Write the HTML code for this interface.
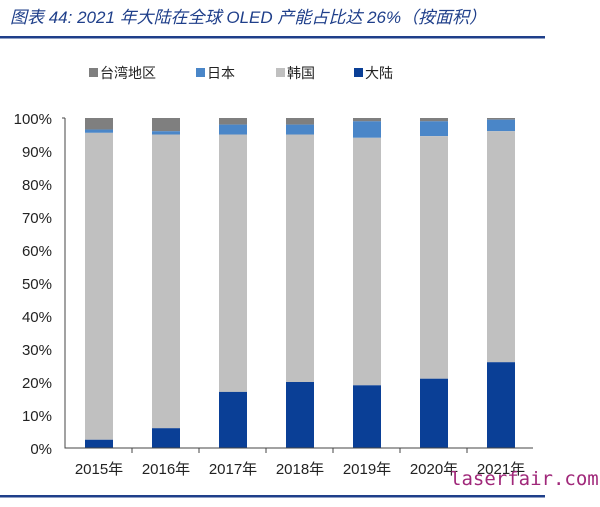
<!DOCTYPE html><html><head><meta charset="utf-8"><style>body{margin:0;background:#fff}svg{display:block}</style></head><body>
<svg width="600" height="507" xmlns="http://www.w3.org/2000/svg" font-family="Liberation Sans, Noto Sans CJK SC, sans-serif">
<text x="10" y="23" font-size="17" font-style="italic" fill="#1f3f8a">图表 44:  2021 年大陆在全球 OLED 产能占比达 26%（按面积）</text>
<rect x="0" y="36" width="545" height="2.5" fill="#1f3f8a"/>
<rect x="0" y="495" width="545" height="2.5" fill="#1f3f8a"/>
<g font-size="14" fill="#222">
<rect x="89" y="68" width="9" height="9" fill="#7f7f7f"/><text x="100" y="78">台湾地区</text>
<rect x="196" y="68" width="9" height="9" fill="#4a86c8"/><text x="207" y="78">日本</text>
<rect x="276" y="68" width="9" height="9" fill="#c0c0c0"/><text x="287" y="78">韩国</text>
<rect x="354" y="68" width="9" height="9" fill="#0a3f96"/><text x="365" y="78">大陆</text>
</g>
<g font-size="15" fill="#222" text-anchor="end">
<text x="52" y="124">100%</text><text x="52" y="157">90%</text><text x="52" y="190">80%</text><text x="52" y="223">70%</text><text x="52" y="256">60%</text><text x="52" y="289">50%</text><text x="52" y="322">40%</text><text x="52" y="355">30%</text><text x="52" y="388">20%</text><text x="52" y="421">10%</text><text x="52" y="454">0%</text>
</g>
<g>
<rect x="85" y="118" width="28" height="11.55" fill="#7f7f7f"/><rect x="85" y="129.55" width="28" height="3.3" fill="#4a86c8"/><rect x="85" y="132.85" width="28" height="306.9" fill="#c0c0c0"/><rect x="85" y="439.75" width="28" height="8.25" fill="#0a3f96"/>
<rect x="152" y="118" width="28" height="13.2" fill="#7f7f7f"/><rect x="152" y="131.2" width="28" height="3.3" fill="#4a86c8"/><rect x="152" y="134.5" width="28" height="293.7" fill="#c0c0c0"/><rect x="152" y="428.2" width="28" height="19.8" fill="#0a3f96"/>
<rect x="219" y="118" width="28" height="6.6" fill="#7f7f7f"/><rect x="219" y="124.6" width="28" height="9.9" fill="#4a86c8"/><rect x="219" y="134.5" width="28" height="257.4" fill="#c0c0c0"/><rect x="219" y="391.9" width="28" height="56.1" fill="#0a3f96"/>
<rect x="286" y="118" width="28" height="6.6" fill="#7f7f7f"/><rect x="286" y="124.6" width="28" height="9.9" fill="#4a86c8"/><rect x="286" y="134.5" width="28" height="247.5" fill="#c0c0c0"/><rect x="286" y="382" width="28" height="66" fill="#0a3f96"/>
<rect x="353" y="118" width="28" height="3.3" fill="#7f7f7f"/><rect x="353" y="121.3" width="28" height="16.5" fill="#4a86c8"/><rect x="353" y="137.8" width="28" height="247.5" fill="#c0c0c0"/><rect x="353" y="385.3" width="28" height="62.7" fill="#0a3f96"/>
<rect x="420" y="118" width="28" height="3.3" fill="#7f7f7f"/><rect x="420" y="121.3" width="28" height="14.85" fill="#4a86c8"/><rect x="420" y="136.15" width="28" height="242.55" fill="#c0c0c0"/><rect x="420" y="378.7" width="28" height="69.3" fill="#0a3f96"/>
<rect x="487" y="118" width="28" height="1.65" fill="#7f7f7f"/><rect x="487" y="119.65" width="28" height="11.55" fill="#4a86c8"/><rect x="487" y="131.2" width="28" height="231" fill="#c0c0c0"/><rect x="487" y="362.2" width="28" height="85.8" fill="#0a3f96"/>
</g>
<path d="M65 118V448H533M62 118H65M132 448v5M199 448v5M266 448v5M333 448v5M400 448v5M467 448v5" stroke="#444" fill="none"/>
<g font-size="15" fill="#222" text-anchor="middle">
<text x="99" y="474">2015年</text><text x="166" y="474">2016年</text><text x="233" y="474">2017年</text><text x="300" y="474">2018年</text><text x="367" y="474">2019年</text><text x="434" y="474">2020年</text><text x="501" y="474">2021年</text>
</g>
<text x="450" y="485" font-size="19" fill="#a0287a" font-family="DejaVu Sans Mono, monospace">laserfair.com</text>
</svg></body></html>
